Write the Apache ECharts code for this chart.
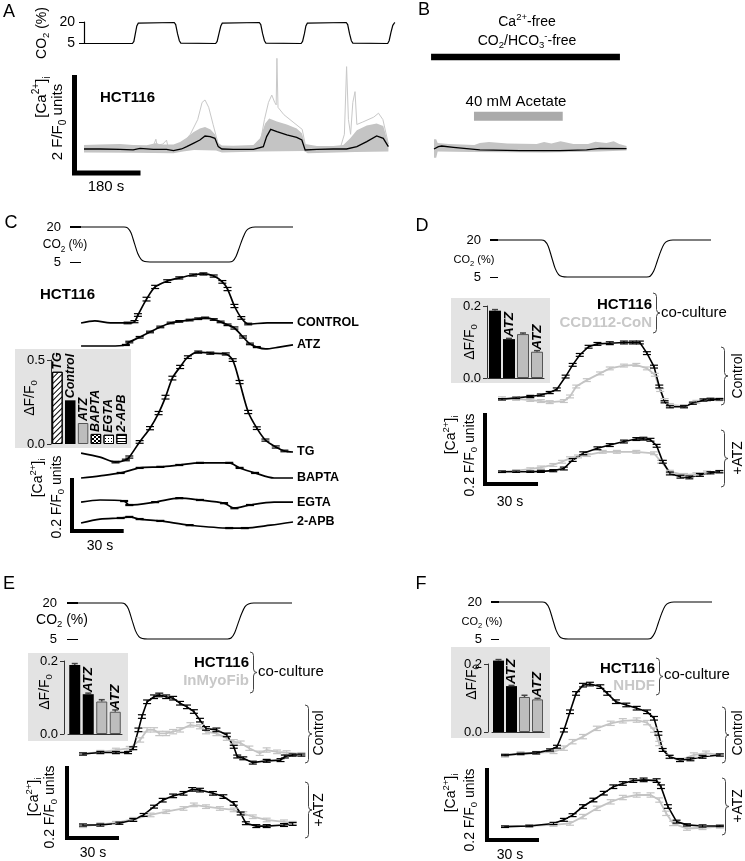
<!DOCTYPE html>
<html>
<head>
<meta charset="utf-8">
<script src="https://cdn.jsdelivr.net/npm/echarts@6.0.0/dist/echarts.min.js"></script>
<style>html,body{margin:0;padding:0;background:#fff;}#chart{width:745px;height:861px;}</style>
</head>
<body>
<div id="chart"></div>
<script>
// ================= DATA =================
// Panel A : CO2 protocol [time s, CO2 %]
const aCO2 = [[0,5],[132,5],[136,6.5],[140,12],[144,17.5],[148,19.5],[153,20],[246,20],[250,18.5],[255,12],[260,7],[264,5.3],[268,5],[359,5],[363,6.5],[368,12],[373,17.5],[377,19.5],[382,20],[478,20],[482,18.5],[487,12],[492,7],[496,5.3],[500,5],[592,5],[596,6.5],[601,12],[605,17.5],[609,19.5],[613,20],[715,20],[719,18.5],[724,12],[729,7],[733,5.3],[737,5],[828,5],[832,7],[837,13],[842,18],[846,19.6],[848,20]];
// Panel A : mean [Ca2+]i (F/F0 change) and the grey envelope of single cells
const aMean = [[0,0],[44,0],[98,-0.007],[134,-0.02],[153,0.014],[189,-0.007],[225,-0.007],[244,-0.034],[266,0],[280,0.048],[298,0.116],[316,0.184],[330,0.265],[344,0.252],[357,0.218],[366,0.048],[376,0],[407,-0.007],[462,-0.007],[489,0.048],[498,0.252],[509,0.401],[526,0.354],[553,0.286],[580,0.238],[594,0.184],[603,-0.02],[635,-0.007],[680,0],[716,0],[744,0.048],[771,0.15],[798,0.265],[816,0.218],[830,0.048]];
const aBandUpper = [[0,0.08],[44,0.09],[98,0.1],[134,0.08],[171,0.075],[198,0.12],[207,0.09],[244,0.09],[262,0.14],[280,0.23],[298,0.34],[316,0.42],[330,0.45],[345,0.4],[357,0.3],[366,0.12],[376,0.07],[407,0.065],[462,0.08],[480,0.22],[494,0.52],[505,0.62],[526,0.56],[553,0.5],[580,0.42],[594,0.32],[603,0.1],[635,0.06],[680,0.06],[707,0.08],[726,0.22],[744,0.38],[771,0.48],[798,0.52],[816,0.47],[830,0.1]];
const aBandLower = [[0,-0.07],[134,-0.075],[244,-0.085],[270,-0.05],[300,-0.02],[360,-0.03],[376,-0.07],[480,-0.05],[600,-0.04],[610,-0.085],[740,-0.06],[830,-0.05]];
const aCell1 = [[262,0.05],[290,0.3],[310,0.6],[322,0.95],[330,1.0],[340,0.85],[352,0.5],[366,0.1]];
const aCell2 = [[480,0.1],[492,0.6],[503,0.95],[512,1.1],[520,0.95],[524,0.9],[526,1.85],[529,0.85],[545,0.7],[570,0.55],[595,0.4],[603,0.1]];
const aCell3 = [[700,0.05],[710,0.3],[716,1.68],[721,0.6],[727,0.3],[733,0.95],[739,1.17],[744,0.5],[760,0.55],[790,0.65],[803,0.73],[815,0.6],[830,0.1]];
const aCell4 = [[180,0.05],[190,0.08],[196,0.2],[199,0.08],[215,0.1],[225,0.18],[228,0.08]];
// Panel B
const bMean = [[0,0],[12,0.048],[21,0.061],[53,0.034],[125,-0.02],[234,-0.034],[343,-0.034],[416,-0.02],[452,0.014],[525,0.007]];
const bBandUpper = [[0,0.2],[6,0.2],[10,0.12],[40,0.1],[110,0.08],[125,0.12],[150,0.14],[200,0.11],[280,0.1],[300,0.14],[320,0.11],[345,0.16],[380,0.1],[420,0.1],[440,0.15],[470,0.12],[490,0.16],[505,0.1],[525,0.06]];
const bBandLower = [[0,-0.18],[6,-0.18],[10,-0.05],[100,-0.06],[300,-0.07],[450,-0.05],[525,-0.03]];
const bCaFree = [-8, 507];     // time span of Ca2+-free, CO2/HCO3- -free solution
const bAcetate = [109, 351];   // time span of 40 mM acetate
// Panels C-F : CO2 protocol [time s, CO2 %]
const co2Step = [[0,20],[25,20],[27,19.6],[29,17.5],[31,13],[33,8.5],[35,6],[37,5.2],[40,5],[86,5],[88,5.4],[90,7.5],[92,11.5],[94,15.5],[96,18.5],[98,19.6],[101,20],[123,20]];
const co2Ticks = [5, 20];
// Panel C : [time s, dF/F0, sem]
const cControl = [[0,0,0],[8,0.008,0],[17,0,0],[27,0,0.003],[31,0.005,0.004],[33,0.03,0.005],[38,0.09,0.007],[43,0.136,0.006],[50,0.158,0.005],[57,0.17,0.004],[65,0.181,0.004],[71,0.185,0.004],[77,0.177,0.004],[82,0.155,0.005],[85,0.128,0.006],[89,0.064,0.006],[93,0.019,0.005],[97,-0.004,0.003],[108,0,0],[123,0,0]];
const cATZ = [[0,0,0],[17,0,0],[26,0.004,0.002],[28,0.015,0.003],[34,0.033,0.003],[40,0.053,0.003],[46,0.072,0.003],[52,0.087,0.003],[57,0.093,0.003],[63,0.098,0.003],[68,0.103,0.003],[72,0.106,0.003],[77,0.1,0.003],[81,0.091,0.003],[85,0.08,0.003],[89,0.068,0.004],[94,0.034,0.004],[98,0.008,0.003],[102,-0.004,0.002],[107,-0.011,0],[115,-0.004,0],[123,0.004,0]];
const cTG = [[0,0,0],[11,-0.015,0],[20,-0.034,0.003],[26,-0.026,0.003],[28,-0.015,0.004],[34,0.042,0.005],[40,0.094,0.006],[45,0.151,0.006],[49,0.211,0.007],[53,0.283,0.007],[57.5,0.325,0.006],[62,0.362,0.005],[68,0.381,0.004],[75,0.377,0.004],[84,0.374,0.004],[88,0.351,0.005],[92,0.268,0.006],[97,0.155,0.006],[102,0.094,0.005],[107,0.049,0.004],[113,0.023,0.004],[118,0.008,0.003],[123,0.004,0]];
const cBAPTA = [[0,0,0],[11,0.008,0],[23,0.019,0.002],[34,0.038,0.002],[46,0.042,0.002],[57,0.049,0.002],[69,0.057,0.002],[86,0.057,0.002],[92,0.038,0.002],[101,0.019,0.002],[112,0,0],[123,0,0]];
const cEGTA = [[0,0,0],[11,0.008,0],[25,0.004,0.002],[28,-0.011,0.002],[43,0,0.002],[57,0.015,0.002],[69,0.008,0.002],[83,-0.004,0.002],[89,-0.023,0.002],[98,-0.011,0.002],[112,0,0],[123,0,0]];
const c2APB = [[0,0,0],[11,0.015,0],[23,0.019,0.002],[28,0.023,0.002],[34,0.015,0.002],[46,0.008,0.002],[63,-0.008,0.002],[86,-0.019,0.002],[95,-0.019,0.002],[110,-0.008,0],[123,0.004,0]];
const cBarCats = ['TG','Control','ATZ','BAPTA','EGTA','2-APB'];
const cBarVals = [0.43, 0.26, 0.125, 0.06, 0.055, 0.06];
// Panel D
const dCtrlHCT = [[0,0,0.002],[8,0.004,0.002],[16,0.008,0.003],[22,0.012,0.003],[27,0.019,0.003],[31,0.028,0.004],[36,0.064,0.004],[40,0.097,0.004],[44,0.125,0.004],[49,0.148,0.004],[54,0.156,0.004],[61,0.158,0.004],[69,0.16,0.004],[74,0.16,0.004],[78,0.16,0.004],[82,0.13,0.004],[86,0.092,0.004],[89,0.036,0.004],[92,-0.007,0.003],[95,-0.021,0.003],[103,-0.021,0.003],[108,-0.011,0.003],[114,-0.002,0.003],[118,0,0.003],[123,0,0.002]];
const dCtrlCCD = [[0,0.003,0.004],[8,0.001,0.004],[16,-0.002,0.004],[22,-0.005,0.004],[27,-0.008,0.004],[35,-0.005,0.004],[38.5,0.008,0.004],[42,0.036,0.004],[48,0.054,0.004],[55.5,0.073,0.004],[61,0.087,0.004],[69,0.095,0.004],[76,0.097,0.004],[82,0.087,0.004],[86.5,0.069,0.004],[89.5,0.026,0.004],[92,-0.002,0.004],[95,-0.016,0.004],[103,-0.019,0.004],[110,-0.007,0.004],[116,-0.002,0.004],[123,0,0.004]];
const dAtzHCT = [[0,0,0.002],[8,0,0.002],[16,0,0.002],[22,0.001,0.003],[29,0.003,0.003],[35,0.009,0.004],[40,0.033,0.004],[46,0.052,0.004],[54,0.066,0.004],[61,0.075,0.004],[69,0.085,0.004],[76,0.092,0.004],[80,0.093,0.004],[84,0.09,0.004],[87.5,0.073,0.004],[91,0.028,0.004],[95,-0.005,0.004],[101,-0.014,0.004],[106,-0.016,0.004],[112,-0.009,0.004],[118,-0.003,0.003],[123,0,0.003]];
const dAtzCCD = [[0,0,0.003],[8,0.003,0.003],[16,0.007,0.004],[22,0.012,0.004],[29,0.019,0.004],[34,0.028,0.004],[38.5,0.038,0.004],[43,0.043,0.004],[48,0.047,0.004],[57,0.056,0.004],[65,0.056,0.004],[76,0.056,0.004],[86,0.052,0.004],[90,0.028,0.004],[95,0,0.004],[103,-0.009,0.004],[110,-0.007,0.004],[116,-0.002,0.004],[123,0,0.004]];
const dBarVals = [0.187, 0.108, 0.122, 0.073];
const dBarErr = [0.003, 0.002, 0.003, 0.003];
// Panel E
const eCtrlHCT = [[0,0,0.003],[10,0.004,0.003],[19,0.004,0.003],[26,0.004,0.003],[29,0.016,0.004],[32,0.067,0.005],[34,0.104,0.005],[37,0.145,0.005],[41,0.159,0.005],[44,0.164,0.005],[48,0.159,0.005],[52,0.155,0.005],[56,0.141,0.005],[60,0.131,0.005],[64,0.118,0.005],[67.5,0.094,0.005],[71,0.071,0.005],[77,0.067,0.005],[83,0.053,0.005],[87,0.02,0.004],[89,-0.007,0.004],[92.5,-0.012,0.004],[98,-0.024,0.004],[106,-0.019,0.004],[114,-0.017,0.004],[116.5,-0.007,0.004],[121,-0.003,0.003],[126,-0.003,0.003]];
const eCtrlMyo = [[0,0,0.004],[10,0.006,0.004],[19,0.011,0.005],[27,0.016,0.005],[33,0.039,0.006],[37,0.067,0.006],[41,0.067,0.006],[44,0.057,0.006],[48,0.057,0.006],[52,0.062,0.006],[56,0.067,0.006],[62,0.081,0.006],[67.5,0.076,0.006],[71,0.062,0.006],[77,0.057,0.006],[83,0.044,0.006],[87,0.034,0.006],[91,0.03,0.006],[96,0.016,0.006],[102,0.002,0.006],[106,0.011,0.006],[112,0.006,0.005],[117.5,0.004,0.005],[126,0,0.004]];
const eAtzHCT = [[0,0,0.003],[10,0,0.003],[21,0.005,0.003],[29,0.014,0.004],[35,0.028,0.004],[41,0.051,0.004],[46,0.069,0.005],[52,0.081,0.005],[58,0.088,0.005],[63,0.099,0.005],[67.5,0.097,0.005],[75,0.088,0.005],[81,0.079,0.005],[87,0.06,0.005],[91,0.032,0.004],[94,0.005,0.004],[100,-0.003,0.004],[106,-0.003,0.004],[116,0,0.004],[121,0.003,0.004]];
const eAtzMyo = [[0,-0.003,0.004],[10,0.002,0.004],[19,0.006,0.004],[29,0.016,0.005],[39,0.028,0.005],[48,0.037,0.005],[58,0.046,0.005],[64,0.056,0.005],[71,0.051,0.005],[79,0.046,0.005],[87,0.042,0.005],[92.5,0.032,0.005],[98,0.023,0.005],[106,0.014,0.005],[116,0.009,0.005],[121,0.006,0.004]];
const eBarVals = [0.189, 0.109, 0.089, 0.061];
const eBarErr = [0.004, 0.003, 0.005, 0.005];
// Panel F
const fCtrlHCT = [[0,0,0.002],[9,0.003,0.002],[18,0.006,0.003],[26,0.014,0.003],[30,0.023,0.004],[34,0.069,0.005],[37.5,0.12,0.005],[41,0.171,0.005],[45,0.194,0.005],[49,0.197,0.005],[55,0.19,0.005],[59,0.171,0.005],[64,0.148,0.005],[70,0.139,0.005],[76,0.13,0.005],[82,0.12,0.005],[86,0.102,0.005],[88.5,0.06,0.005],[91,0.014,0.004],[95,-0.005,0.004],[101,-0.014,0.004],[107,-0.012,0.004],[114,-0.005,0.004],[124,0,0.003]];
const fCtrlNHDF = [[0,-0.003,0.003],[9,0.005,0.004],[18,0.006,0.004],[28,0.009,0.005],[34,0.019,0.006],[39,0.037,0.006],[45,0.051,0.006],[53,0.074,0.006],[61,0.088,0.006],[68,0.095,0.006],[76,0.097,0.006],[82,0.09,0.006],[86,0.069,0.006],[89,0.032,0.006],[95,-0.005,0.005],[101,-0.014,0.005],[109,0,0.006],[116,0.005,0.006],[124,0,0.004]];
const fAtzHCT = [[0,0,0.002],[14,0.002,0.002],[28,0.009,0.003],[34,0.019,0.004],[39,0.032,0.004],[45,0.056,0.005],[51,0.074,0.005],[57,0.093,0.005],[62.5,0.111,0.005],[68,0.12,0.005],[74,0.128,0.005],[80,0.13,0.005],[87.5,0.128,0.005],[90,0.111,0.005],[94,0.056,0.005],[99,0.014,0.004],[105,0.005,0.003],[114,0.002,0.003],[124,0.002,0.002]];
const fAtzNHDF = [[0,0,0.003],[14,0.002,0.003],[28,0.005,0.004],[37.5,0.009,0.005],[45,0.028,0.006],[53,0.051,0.006],[61,0.069,0.006],[68,0.081,0.006],[76,0.088,0.006],[84,0.088,0.006],[89,0.074,0.006],[93,0.037,0.006],[97,0.009,0.006],[105,-0.005,0.005],[114,-0.003,0.005],[124,0,0.004]];
const fBarVals = [0.21, 0.135, 0.103, 0.096];
const fBarErr = [0.003, 0.002, 0.005, 0.003];
const coBarCats = ['HCT116','HCT116 ATZ','fibroblast','fibroblast ATZ'];
const coBarLabels = ['', 'ATZ', '', 'ATZ'];

// ================= BUILD =================
const FONT = '"Liberation Sans", Arial, Helvetica, sans-serif';
const GREY = '#c4c4c4';
const grids = [], xAxes = [], yAxes = [], series = [], graphics = [];

function addGrid(box, xa, ya) {
  grids.push(Object.assign({show:false, outerBoundsMode:'none'}, box));
  const i = grids.length - 1;
  xAxes.push(Object.assign({gridIndex:i, type:'value', show:false, splitLine:{show:false}}, xa));
  yAxes.push(Object.assign({gridIndex:i, type:'value', show:false, splitLine:{show:false}}, ya));
  return i;
}
// CO2 boxes are given for the 5..20 % span; a small headroom keeps the top tick drawn
const CO2_HEAD = 0.3;
function co2Box(left, top, width, height) {
  const pxPer = height / (co2Ticks[1] - co2Ticks[0]);
  return {left, top: top - CO2_HEAD * pxPer, width, height: height + CO2_HEAD * pxPer};
}
function shift(d, off) { return d.map(p => [p[0], p[1] + off]); }
function lineS(gi, data, color, width, extra) {
  return Object.assign({type:'line', xAxisIndex:gi, yAxisIndex:gi, data, symbol:'none', showSymbol:false,
    silent:true, animation:false, clip:false, z:3,
    lineStyle:{color, width, cap:'butt', join:'miter'}}, extra || {});
}
function errS(gi, data, off, color, cap) {
  return {type:'custom', xAxisIndex:gi, yAxisIndex:gi, silent:true, animation:false, z:4,
    data: data.filter(p => p[2] > 0).map(p => [p[0], p[1] + off, p[2]]),
    renderItem: (params, api) => {
      const t = api.value(0), v = api.value(1), e = api.value(2);
      const a = api.coord([t, v + e]), b = api.coord([t, v - e]);
      const st = {stroke: color, lineWidth: 1.2, fill: null};
      return {type:'group', children:[
        {type:'line', shape:{x1:a[0], y1:a[1], x2:b[0], y2:b[1]}, style:st},
        {type:'line', shape:{x1:a[0]-cap, y1:a[1], x2:a[0]+cap, y2:a[1]}, style:st},
        {type:'line', shape:{x1:b[0]-cap, y1:b[1], x2:b[0]+cap, y2:b[1]}, style:st}]};
    }};
}
function bandS(gi, upper, lower, color) {
  return {type:'custom', xAxisIndex:gi, yAxisIndex:gi, silent:true, animation:false, z:2, data:[[0,0]],
    renderItem: (params, api) => {
      const pts = upper.map(p => api.coord(p)).concat(lower.slice().reverse().map(p => api.coord(p)));
      return {type:'polygon', shape:{points:pts}, style:{fill:color}};
    }};
}
function trace(gi, data, off, color, width, smooth, errColor, label) {
  const ext = {smooth: smooth};
  if (label) ext.endLabel = {show:true, formatter:label, color:'#000', fontSize:12.5, fontWeight:'bold', fontFamily:FONT, distance:4};
  series.push(lineS(gi, shift(data, off), color, width, ext));
  if (errColor) series.push(errS(gi, data, off, errColor, 4));
}
function co2Axis(offset, tickLen, margin, fs, showLine) {
  return {show:true, min:co2Ticks[0], max:co2Ticks[1] + CO2_HEAD, interval:co2Ticks[1] - co2Ticks[0], offset,
    axisLine:{show:true, lineStyle:{color: showLine ? '#000' : 'rgba(0,0,0,0)', width:1.2}},
    axisTick:{show:true, length:tickLen, lineStyle:{color:'#000', width:1}},
    axisLabel:{show:true, margin, fontSize:fs, color:'#000', fontFamily:FONT,
      formatter: v => (co2Ticks.indexOf(v) >= 0 ? String(v) : '')},
    splitLine:{show:false}};
}
function insetY(max, offset) {
  return {show:true, min:0, max, interval:max, offset, z:5,
    axisLine:{show:true, lineStyle:{color:'#333', width:1}},
    axisTick:{show:true, length:4, lineStyle:{color:'#333'}},
    axisLabel:{formatter: v => v.toFixed(1), fontSize:13, color:'#000', fontFamily:FONT, margin:6},
    splitLine:{show:false}};
}
function insetX(cats, showLine) {
  return {type:'category', data:cats, show:true, z:5, boundaryGap:true,
    axisLine:{show:showLine, lineStyle:{color:'#333', width:1}}, axisTick:{show:false},
    axisLabel:{show:false}, splitLine:{show:false}};
}
function barS(gi, vals, styles, labels, fs, bw) {
  return {type:'bar', xAxisIndex:gi, yAxisIndex:gi, barWidth:bw, silent:true, animation:false, clip:false, z:3,
    data: vals.map((v, i) => ({value:v, itemStyle:styles[i], label:{show: !!labels[i]}})),
    label:{show:true, position:'top', rotate:90, align:'left', verticalAlign:'middle', distance:2,
      formatter: p => labels[p.dataIndex] || '', fontSize:fs, fontWeight:'bold', fontStyle:'italic',
      color:'#000', fontFamily:FONT}};
}
function barErrS(gi, vals, errs, color) {
  return {type:'custom', xAxisIndex:gi, yAxisIndex:gi, silent:true, animation:false, z:4,
    data: vals.map((v, i) => [i, v, errs[i]]),
    renderItem: (params, api) => {
      const i = api.value(0), v = api.value(1), e = api.value(2);
      const a = api.coord([i, v + e]), b = api.coord([i, v]);
      const st = {stroke: color, lineWidth: 1.5, fill: null};
      return {type:'group', children:[
        {type:'line', shape:{x1:a[0], y1:a[1], x2:b[0], y2:b[1]}, style:st},
        {type:'line', shape:{x1:a[0]-3, y1:a[1], x2:a[0]+3, y2:a[1]}, style:st}]};
    }};
}
const rich = fs => ({
  s:{fontSize: fs*0.68, fontFamily:FONT, verticalAlign:'bottom'},
  p:{fontSize: fs*0.68, fontFamily:FONT, verticalAlign:'top'}
});
function txt(x, y, text, fs, o) {
  o = o || {};
  graphics.push({type:'text', x, y, rotation: o.rot ? Math.PI/2 : 0, silent:true, z:50,
    style:{text, fill:o.color || '#000', fontSize:fs, fontFamily:FONT,
      fontWeight: o.bold ? 'bold' : 'normal', lineHeight: fs*1.4,
      textAlign: o.align || 'center', textVerticalAlign:'middle', rich: rich(fs)}});
}
function brace(x, y1, y2) {
  const w = 3.5, m = (y1 + y2) / 2;
  const st = {stroke:'#444', fill:null, lineWidth:1};
  const q = (x1, y1_, cx, cy, x2, y2_) => ({type:'bezierCurve', silent:true, shape:{x1, y1:y1_, cpx1:cx, cpy1:cy, x2, y2:y2_}, style:st});
  const l = (x1, y1_, x2, y2_) => ({type:'line', silent:true, shape:{x1, y1:y1_, x2, y2:y2_}, style:st});
  graphics.push({type:'group', z:50, silent:true, children:[
    q(x, y1, x+w, y1, x+w, y1+w),
    l(x+w, y1+w, x+w, m-w),
    q(x+w, m-w, x+w, m, x+2*w, m),
    q(x+2*w, m, x+w, m, x+w, m+w),
    l(x+w, m+w, x+w, y2-w),
    q(x+w, y2-w, x+w, y2, x, y2)
  ]});
}
function bg(x, y, w, h) {
  graphics.push({type:'rect', silent:true, z:-5, shape:{x, y, width:w, height:h}, style:{fill:'#e3e3e3'}});
}

// ---------- Panel A ----------
const kA = 311 / 848;
const gA0 = addGrid(co2Box(84, 22.5, 311, 21), {min:0, max:848}, co2Axis(0, 5, 9, 14, true));
series.push(lineS(gA0, aCO2, '#000', 1.2));
const gA1 = addGrid({left:84 - 32*kA, top:50, width:880*kA, height:130}, {min:-32, max:848}, {min:-0.633, max:2.02});
series.push(bandS(gA1, aBandUpper, aBandLower, GREY));
[aCell1, aCell2, aCell3, aCell4].forEach(c => series.push(lineS(gA1, c, '#c8c8c8', 1)));
series.push(lineS(gA1, aMean, '#000', 1.3, {z:5}));
series.push(lineS(gA1, [[-25.9,1.51],[-25.9,-0.49],[154.1,-0.49]], '#000', 5, {z:6}));

// ---------- Panel B ----------
const gB = addGrid({left:434 - 10*kA, top:50, width:540*kA, height:130}, {min:-10, max:530}, {min:-0.633, max:2.02});
series.push(bandS(gB, bBandUpper, bBandLower, GREY));
series.push(lineS(gB, bMean, '#000', 1.3, {z:5}));
series.push(lineS(gB, [[bCaFree[0],1.878],[bCaFree[1],1.878]], '#000', 6.4));
series.push(lineS(gB, [[bAcetate[0],0.669],[bAcetate[1],0.669]], '#aaaaaa', 9));

// ---------- Panel C ----------
const gC0 = addGrid(co2Box(81, 227, 212, 35), {min:0, max:123}, co2Axis(4, 11, 16, 13, false));
series.push(lineS(gC0, co2Step, '#000', 1.1, {smooth:0.3}));
const gC1 = addGrid({left:69, top:265, width:224, height:275}, {min:-7, max:123}, {min:0, max:275/265});
trace(gC1, cControl, 0.819, '#000', 1.7, 0.3, '#000', 'CONTROL');
trace(gC1, cATZ, 0.732, '#000', 1.7, 0.3, '#000', 'ATZ');
trace(gC1, cTG, 0.328, '#000', 1.7, 0.3, '#000', 'TG');
trace(gC1, cBAPTA, 0.234, '#000', 1.7, 0.3, '#000', 'BAPTA');
trace(gC1, cEGTA, 0.143, '#000', 1.7, 0.3, '#000', 'EGTA');
trace(gC1, c2APB, 0.064, '#000', 1.7, 0.3, '#000', '2-APB');
series.push(lineS(gC1, [[-5.26,0.234],[-5.26,0.034],[24.74,0.034]], '#000', 4, {z:6}));
bg(15, 349, 116, 99);
const gC2 = addGrid({left:51, top:360, width:77, height:84}, insetX(cBarCats, false), insetY(0.5, 0));
const hatch = {symbol:'rect', symbolSize:1, dashArrayX:[1,0], dashArrayY:[1,3], rotation:-Math.PI/4, color:'#000'};
const cStyles = [
  {color:'#fff', borderColor:'#000', borderWidth:1, decal:hatch},
  {color:'#000'},
  {color:'#bdbdbd', borderColor:'#555', borderWidth:1},
  {color:'#fff', borderColor:'#000', borderWidth:1, decal:{symbol:'rect', symbolSize:1, dashArrayX:[[2,2],[0,2,2,0]], dashArrayY:[2,0], color:'#000'}},
  {color:'#fff', borderColor:'#000', borderWidth:1, decal:{symbol:'rect', symbolSize:1, dashArrayX:[1,1.5], dashArrayY:[1,1.5], color:'#000'}},
  {color:'#fff', borderColor:'#000', borderWidth:1, decal:{symbol:'rect', symbolSize:1, dashArrayX:[1,0], dashArrayY:[1,2], color:'#000'}}
];
series.push(barS(gC2, cBarVals, cStyles, cBarCats, 12.5, 10.5));

// ---------- Panel D / E / F (co-culture) ----------
const blackBar = {color:'#000'};
const greyBar = {color:'#bdbdbd', borderColor:'#555', borderWidth:1};
const coStyles = [blackBar, blackBar, greyBar, greyBar];
function coPanel(p) {
  const g0 = addGrid(p.co2Box, {min:0, max:123}, co2Axis(p.co2Off, p.co2Tick, p.co2Margin, 13, false));
  series.push(lineS(g0, co2Step, '#000', 1.1, {smooth:0.3}));
  const g1 = addGrid(p.caBox, {min:p.xr[0], max:p.xr[1]}, {min:0, max:p.ymax});
  trace(g1, p.ctrlFib, p.offCtrl, GREY, 1.8, false, GREY);
  trace(g1, p.ctrlHCT, p.offCtrl, '#000', 1.6, false, '#000');
  trace(g1, p.atzFib, p.offAtz, GREY, 1.8, false, GREY);
  trace(g1, p.atzHCT, p.offAtz, '#000', 1.6, false, '#000');
  series.push(lineS(g1, p.scale, '#000', 4, {z:6}));
  bg(p.bg[0], p.bg[1], p.bg[2], p.bg[3]);
  const g2 = addGrid(p.barBox, insetX(coBarCats, true), insetY(0.2, p.barOff));
  series.push(barS(g2, p.bars, coStyles, coBarLabels, 13.5, p.bw));
  series.push(barErrS(g2, p.bars, p.errs, '#444'));
}
coPanel({co2Box:co2Box(498, 240, 213, 37), co2Off:6, co2Tick:8, co2Margin:11,
  caBox:{left:480.8, top:330, width:242.1, height:165}, xr:[-12,125], ymax:165/355,
  ctrlHCT:dCtrlHCT, ctrlFib:dCtrlCCD, atzHCT:dAtzHCT, atzFib:dAtzCCD, offCtrl:0.2696, offAtz:0.0656,
  scale:[[-9.62,0.231],[-9.62,0.031],[20.38,0.031]],
  bg:[451,298,99,85], barBox:{left:488, top:306, width:56, height:72}, barOff:1, bw:12, bars:dBarVals, errs:dBarErr});
coPanel({co2Box:co2Box(78, 603, 214, 36), co2Off:5, co2Tick:11, co2Margin:16,
  caBox:{left:62.2, top:680, width:242.6, height:170}, xr:[-12,128], ymax:170/360,
  ctrlHCT:eCtrlHCT, ctrlFib:eCtrlMyo, atzHCT:eAtzHCT, atzFib:eAtzMyo, offCtrl:0.2667, offAtz:0.0694,
  scale:[[-9.23,0.2333],[-9.23,0.0333],[20.77,0.0333]],
  bg:[28,653,100,88], barBox:{left:68, top:661, width:54, height:73}, barOff:4, bw:11, bars:eBarVals, errs:eBarErr});
coPanel({co2Box:co2Box(499, 602, 213, 37), co2Off:6, co2Tick:8, co2Margin:11,
  caBox:{left:480.74, top:680, width:242.6, height:170}, xr:[-14,126], ymax:170/360,
  ctrlHCT:fCtrlHCT, ctrlFib:fCtrlNHDF, atzHCT:fAtzHCT, atzFib:fAtzNHDF, offCtrl:0.2639, offAtz:0.0648,
  scale:[[-10.39,0.2278],[-10.39,0.0278],[19.61,0.0278]],
  bg:[451,647,99,91], barBox:{left:492, top:664, width:52, height:68}, barOff:4, bw:11, bars:fBarVals, errs:fBarErr});

// ---------- Texts ----------
// A
txt(9, 12, 'A', 18);
txt(42, 33, 'CO{s|2} (%)', 14, {rot:true});
txt(100, 98, 'HCT116', 15, {bold:true, align:'left'});
txt(42, 97, '[Ca{p|2+}]{s|i}', 15, {rot:true});
txt(58, 122, '2 F/F{s|0} units', 15, {rot:true});
txt(106, 187, '180 s', 15);
// B
txt(424, 10, 'B', 18);
txt(527, 22, 'Ca{p|2+}-free', 14);
txt(527, 41, 'CO{s|2}/HCO{s|3}{p|-}-free', 14);
txt(516, 102, '40 mM Acetate', 15);
// C
txt(11, 223, 'C', 18);
txt(65, 245, 'CO{s|2} (%)', 12);
txt(40, 295, 'HCT116', 15, {bold:true, align:'left'});
txt(30, 398, 'ΔF/F{s|0}', 14, {rot:true});
txt(38, 478, '[Ca{p|2+}]{s|i}', 14, {rot:true});
txt(57, 497, '0.2 F/F{s|0} units', 14, {rot:true});
txt(100, 546, '30 s', 14);
// D
txt(422, 226, 'D', 18);
txt(474, 260, 'CO{s|2} (%)', 11);
txt(652, 305, 'HCT116', 15, {bold:true, align:'right'});
txt(652, 323, 'CCD112-CoN', 15, {bold:true, align:'right', color:'#c8c8c8'});
brace(653, 293, 333);
txt(661, 313, 'co-culture', 15, {align:'left'});
txt(470, 342, 'ΔF/F{s|0}', 14, {rot:true});
brace(721, 347, 405);
txt(738, 376, 'Control', 14, {rot:true});
brace(721, 430, 487);
txt(738, 458, '+ATZ', 14, {rot:true});
txt(451, 435, '[Ca{p|2+}]{s|i}', 14, {rot:true});
txt(470, 455, '0.2 F/F{s|0} units', 14, {rot:true});
txt(510, 502, '30 s', 14);
// E
txt(9, 584, 'E', 18);
txt(62, 620, 'CO{s|2} (%)', 14);
txt(249, 663, 'HCT116', 15, {bold:true, align:'right'});
txt(249, 681, 'InMyoFib', 15, {bold:true, align:'right', color:'#c8c8c8'});
brace(250, 652, 693);
txt(258, 672, 'co-culture', 15, {align:'left'});
txt(45, 692, 'ΔF/F{s|0}', 14, {rot:true});
brace(305, 705, 763);
txt(319, 733, 'Control', 14, {rot:true});
brace(305, 782, 838);
txt(319, 810, '+ATZ', 14, {rot:true});
txt(34, 797, '[Ca{p|2+}]{s|i}', 14, {rot:true});
txt(50, 807, '0.2 F/F{s|0} units', 14, {rot:true});
txt(93, 853, '30 s', 14);
// F
txt(421, 584, 'F', 18);
txt(482, 622, 'CO{s|2} (%)', 11);
txt(655, 669, 'HCT116', 15, {bold:true, align:'right'});
txt(655, 686, 'NHDF', 15, {bold:true, align:'right', color:'#c8c8c8'});
brace(656, 658, 695);
txt(664, 675, 'co-culture', 15, {align:'left'});
txt(472, 682, 'ΔF/F{s|0}', 14, {rot:true});
brace(722, 707, 763);
txt(738, 733, 'Control', 14, {rot:true});
brace(722, 778, 835);
txt(738, 806, '+ATZ', 14, {rot:true});
txt(451, 793, '[Ca{p|2+}]{s|i}', 14, {rot:true});
txt(470, 810, '0.2 F/F{s|0} units', 14, {rot:true});
txt(510, 855, '30 s', 14);

const chart = echarts.init(document.getElementById('chart'), null, {renderer:'canvas'});
chart.setOption({
  animation:false,
  backgroundColor:'#fff',
  textStyle:{fontFamily:FONT},
  grid:grids, xAxis:xAxes, yAxis:yAxes, series, graphic:{elements:graphics}
});
</script>
</body>
</html>
